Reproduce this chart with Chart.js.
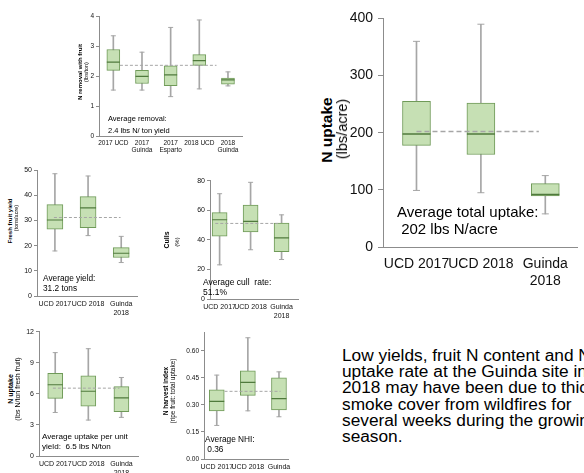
<!DOCTYPE html>
<html>
<head>
<meta charset="utf-8">
<script src="https://cdn.jsdelivr.net/npm/chart.js@4/dist/chart.umd.min.js"></script>
<style>
body { margin: 0; width: 584px; height: 473px; overflow: hidden; background: #fff; position: relative; font-family: "Liberation Sans", Arial, sans-serif; }
canvas { position: absolute; }
.t { position: absolute; white-space: pre; color: #000; }
.yt { position: absolute; white-space: nowrap; color: #000; transform: translate(-50%, -50%) rotate(-90deg); }
</style>
</head>
<body>
<canvas id="removal"></canvas>
<canvas id="uptake"></canvas>
<canvas id="yield"></canvas>
<canvas id="culls"></canvas>
<canvas id="perTon"></canvas>
<canvas id="nhi"></canvas>

<div class="yt" style="left:80px;top:72px;font-size:6px;font-weight:bold">N removal with fruit</div>
<div class="yt" style="left:86px;top:72px;font-size:5.5px">(lbs/ton)</div>
<div class="t" style="left:108px;top:113px;font-size:7.5px;line-height:12px">Average removal:
2.4 lbs N/ ton yield</div>

<div class="yt" style="left:327px;top:130px;font-size:15.5px;font-weight:bold">N uptake</div>
<div class="yt" style="left:342px;top:129px;font-size:14.5px">(lbs/acre)</div>
<div class="t" style="left:397px;top:203px;font-size:15px;line-height:17px">Average total uptake:
 202 lbs N/acre</div>

<div class="yt" style="left:10px;top:221px;font-size:6px;font-weight:bold">Fresh fruit yield</div>
<div class="yt" style="left:16px;top:218px;font-size:5.5px">(tons/acre)</div>
<div class="t" style="left:43px;top:273px;font-size:8.3px;line-height:10px">Average yield:
31.2 tons</div>

<div class="yt" style="left:166px;top:240px;font-size:7px;font-weight:bold">Culls</div>
<div class="yt" style="left:177px;top:242px;font-size:6px">(%)</div>
<div class="t" style="left:203px;top:277px;font-size:8.5px;line-height:10px">Average cull  rate:
51.1%</div>

<div class="yt" style="left:10px;top:389px;font-size:7px;font-weight:bold">N uptake</div>
<div class="yt" style="left:17px;top:389px;font-size:7px">(lbs N/ton fresh fruit)</div>
<div class="t" style="left:42px;top:432px;font-size:8.1px;line-height:9.5px">Average uptake per unit
yield:  6.5 lbs N/ton</div>

<div class="yt" style="left:165px;top:391px;font-size:6.5px;font-weight:bold">N harvest index</div>
<div class="yt" style="left:172px;top:391px;font-size:6.5px">(ripe fruit: total uptake)</div>
<div class="t" style="left:205px;top:434px;font-size:8.3px;line-height:10px">Average NHI:
 0.36</div>

<div class="t" style="left:342px;top:347px;font-size:17.3px;line-height:16.2px">Low yields, fruit N content and N
uptake rate at the Guinda site in
2018 may have been due to thick
smoke cover from wildfires for
several weeks during the growing
season.</div>

<script>
// N removal with fruit (lbs/ton)
const removalLabels = [['2017 UCD'], ['2017', 'Guinda'], ['2017', 'Esparto'], ['2018 UCD'], ['2018', 'Guinda']];
const removalMin = [1.54, 1.54, 1.32, 1.58, 1.68];
const removalQ1 = [2.2, 1.76, 1.69, 2.37, 1.74];
const removalMed = [2.48, 2.0, 2.05, 2.53, 1.88];
const removalQ3 = [2.9, 2.2, 2.35, 2.73, 1.94];
const removalMax = [3.36, 2.81, 3.64, 3.89, 2.15];
const removalAvg = 2.37;

// N uptake (lbs/acre)
const uptakeLabels = [['UCD 2017'], ['UCD 2018'], ['Guinda', '2018']];
const uptakeMin = [99, 95, 58];
const uptakeQ1 = [178, 162, 89.5];
const uptakeMed = [198, 198, 92];
const uptakeQ3 = [255, 252, 111];
const uptakeMax = [360, 390, 125];
const uptakeAvg = 202;

// Fresh fruit yield (tons/acre)
const yieldLabels = [['UCD 2017'], ['UCD 2018'], ['Guinda', '2018']];
const yieldMin = [17.9, 24, 13.3];
const yieldQ1 = [26.6, 27.2, 15.3];
const yieldMed = [30.2, 35, 17];
const yieldQ3 = [36.3, 39.5, 19.2];
const yieldMax = [48.6, 47.7, 23.7];
const yieldAvg = 31.2;

// Culls (%)
const cullLabels = [['UCD 2017'], ['UCD 2018'], ['Guinda', '2018']];
const cullMin = [23.1, 33.3, 26.7];
const cullQ1 = [42.5, 45.4, 32];
const cullMed = [53.6, 52.5, 41.4];
const cullQ3 = [58.4, 63.5, 51.4];
const cullMax = [71.2, 78.9, 56.9];
const cullAvg = 51.1;

// N uptake per ton fresh fruit
const perTonLabels = [['UCD 2017'], ['UCD 2018'], ['Guinda', '2018']];
const perTonMin = [4.2, 3.47, 3.73];
const perTonQ1 = [5.56, 4.8, 4.29];
const perTonMed = [6.88, 6.25, 5.62];
const perTonQ3 = [7.99, 7.74, 6.69];
const perTonMax = [9.98, 10.36, 7.58];
const perTonAvg = 6.55;

// N harvest index
const nhiLabels = [['UCD 2017'], ['UCD 2018'], ['Guinda', '2018']];
const nhiMin = [0.186, 0.267, 0.234];
const nhiQ1 = [0.267, 0.353, 0.272];
const nhiMed = [0.319, 0.425, 0.335];
const nhiQ3 = [0.384, 0.488, 0.45];
const nhiMax = [0.465, 0.672, 0.483];
const nhiAvg = 0.375;

const boxFill = '#c6e0b4';
const boxEdge = '#6f9a58';
const medGreen = '#4f7a3c';
const whiskGray = '#a6a6a6';
const axisGray = '#8c8c8c';
const family = '"Liberation Sans", Arial, sans-serif';

function boxChart(id, p) {
    const idx = p.labels.map((_, i) => i);
    const canvas = document.getElementById(id);
    const left = p.axisX - p.yW;
    const top = p.yTop - p.padTop;
    canvas.width = p.plotRight - left;
    canvas.height = p.yZero - top + p.xH;
    canvas.style.left = left + 'px';
    canvas.style.top = top + 'px';

    return new Chart(canvas, {
        type: 'bar',
        data: {
            datasets: [
                {
                    type: 'line',
                    data: [{x: p.avgFrom, y: p.avg}, {x: p.avgTo, y: p.avg}],
                    borderColor: whiskGray,
                    borderWidth: p.dashW,
                    borderDash: p.dash,
                    pointRadius: 0,
                    order: 0,
                },
                {
                    type: 'scatter',
                    data: idx.map(i => ({x: i, y: p.med[i]})),
                    pointStyle: 'line',
                    pointRadius: p.box / 2,
                    pointBorderColor: medGreen,
                    pointBorderWidth: p.medW,
                    order: 1,
                },
                {
                    data: idx.map(i => ({x: i, y: [p.q1[i], p.q3[i]]})),
                    backgroundColor: boxFill,
                    borderColor: boxEdge,
                    borderWidth: 1,
                    borderSkipped: false,
                    barThickness: p.box,
                    grouped: false,
                    order: 2,
                },
                {
                    type: 'scatter',
                    data: idx.flatMap(i => [{x: i, y: p.min[i]}, {x: i, y: p.max[i]}]),
                    pointStyle: 'line',
                    pointRadius: p.cap,
                    pointBorderColor: whiskGray,
                    pointBorderWidth: 1,
                    order: 3,
                },
                {
                    data: idx.map(i => ({x: i, y: [p.min[i], p.max[i]]})),
                    backgroundColor: whiskGray,
                    borderWidth: 0,
                    barThickness: 1,
                    grouped: false,
                    order: 4,
                },
            ]
        },
        options: {
            responsive: false,
            animation: false,
            events: [],
            layout: {padding: {top: p.padTop, right: 0, bottom: 0, left: 0}},
            plugins: {legend: {display: false}, tooltip: {enabled: false}},
            scales: {
                x: {
                    type: 'linear',
                    offset: false,
                    min: p.xMin,
                    max: p.xMax,
                    grid: {display: false, drawTicks: false, offset: false},
                    border: {color: axisGray, width: 1},
                    afterBuildTicks: s => { s.ticks = idx.map(i => ({value: i})); },
                    afterFit: s => { s.height = p.xH; s.paddingLeft = 0; s.paddingRight = 0; },
                    ticks: {
                        autoSkip: false, maxRotation: 0, minRotation: 0,
                        padding: p.xPad, color: '#111',
                        font: {family: family, size: p.xFont, lineHeight: 1.2},
                        callback: v => p.labels[v],
                    },
                },
                y: {
                    min: 0,
                    max: p.yMax,
                    afterFit: s => { s.width = p.yW; s.paddingTop = 0; s.paddingBottom = 0; },
                    grid: {drawOnChartArea: false, tickLength: p.tickLen, color: axisGray},
                    border: {color: axisGray, width: 1},
                    ticks: {
                        stepSize: p.step, includeBounds: false,
                        padding: p.yPad, color: '#111',
                        font: {family: family, size: p.yFont},
                        callback: p.fmt || (v => v),
                    },
                },
            },
        },
    });
}

boxChart('removal', {
    labels: removalLabels, min: removalMin, q1: removalQ1, med: removalMed, q3: removalQ3, max: removalMax, avg: removalAvg,
    avgFrom: 0.23, avgTo: 3.6,
    axisX: 99, yTop: 15, yZero: 136, plotRight: 250, xMin: -0.5, xMax: 4.5,
    yW: 20, padTop: 6, xH: 24, yMax: 4, step: 1,
    box: 13, cap: 2.5, medW: 1.2, dashW: 1, dash: [3, 2],
    xFont: 6.5, yFont: 6.5, xPad: 3, yPad: 2, tickLen: 3,
});

boxChart('uptake', {
    labels: uptakeLabels, min: uptakeMin, q1: uptakeQ1, med: uptakeMed, q3: uptakeQ3, max: uptakeMax, avg: uptakeAvg,
    avgFrom: 0, avgTo: 1.9,
    axisX: 383, yTop: 13, yZero: 247, plotRight: 593, xMin: -0.52, xMax: 2.5,
    yW: 42, padTop: 10, xH: 42, yMax: 400, step: 100,
    box: 28, cap: 3.5, medW: 1.5, dashW: 1.5, dash: [5, 3],
    xFont: 14, yFont: 14, xPad: 9, yPad: 5, tickLen: 5,
});

boxChart('yield', {
    labels: yieldLabels, min: yieldMin, q1: yieldQ1, med: yieldMed, q3: yieldQ3, max: yieldMax, avg: yieldAvg,
    avgFrom: -0.03, avgTo: 1.98,
    axisX: 37, yTop: 167, yZero: 296, plotRight: 147, xMin: -0.54, xMax: 2.5,
    yW: 20, padTop: 6, xH: 26, yMax: 50, step: 10,
    box: 16, cap: 2.5, medW: 1.2, dashW: 1, dash: [3, 2],
    xFont: 7, yFont: 7, xPad: 4, yPad: 2, tickLen: 3,
});

boxChart('culls', {
    labels: cullLabels, min: cullMin, q1: cullQ1, med: cullMed, q3: cullQ3, max: cullMax, avg: cullAvg,
    avgFrom: -0.14, avgTo: 1.89,
    axisX: 210, yTop: 178, yZero: 299, plotRight: 307, xMin: -0.31, xMax: 2.54,
    yW: 20, padTop: 6, xH: 26, yMax: 80, step: 20,
    box: 15, cap: 2.5, medW: 1.2, dashW: 1, dash: [3, 2],
    xFont: 7, yFont: 7, xPad: 4, yPad: 2, tickLen: 3,
});

boxChart('perTon', {
    labels: perTonLabels, min: perTonMin, q1: perTonQ1, med: perTonMed, q3: perTonQ3, max: perTonMax, avg: perTonAvg,
    avgFrom: -0.07, avgTo: 1.94,
    axisX: 39, yTop: 329, yZero: 456, plotRight: 147, xMin: -0.49, xMax: 2.51,
    yW: 20, padTop: 6, xH: 26, yMax: 12, step: 3,
    box: 15, cap: 2.5, medW: 1.2, dashW: 1, dash: [3, 2],
    xFont: 7, yFont: 7, xPad: 4, yPad: 2, tickLen: 3,
});

boxChart('nhi', {
    labels: nhiLabels, min: nhiMin, q1: nhiQ1, med: nhiMed, q3: nhiQ3, max: nhiMax, avg: nhiAvg,
    avgFrom: 0.25, avgTo: 2.05,
    axisX: 204, yTop: 330, yZero: 459, plotRight: 297, xMin: -0.41, xMax: 2.3,
    yW: 24, padTop: 6, xH: 26, yMax: 0.7, step: 0.15,
    box: 15, cap: 2.5, medW: 1.2, dashW: 1, dash: [3, 2],
    xFont: 7, yFont: 6.5, xPad: 4, yPad: 2, tickLen: 3,
    fmt: v => v.toFixed(2),
});
</script>
</body>
</html>
